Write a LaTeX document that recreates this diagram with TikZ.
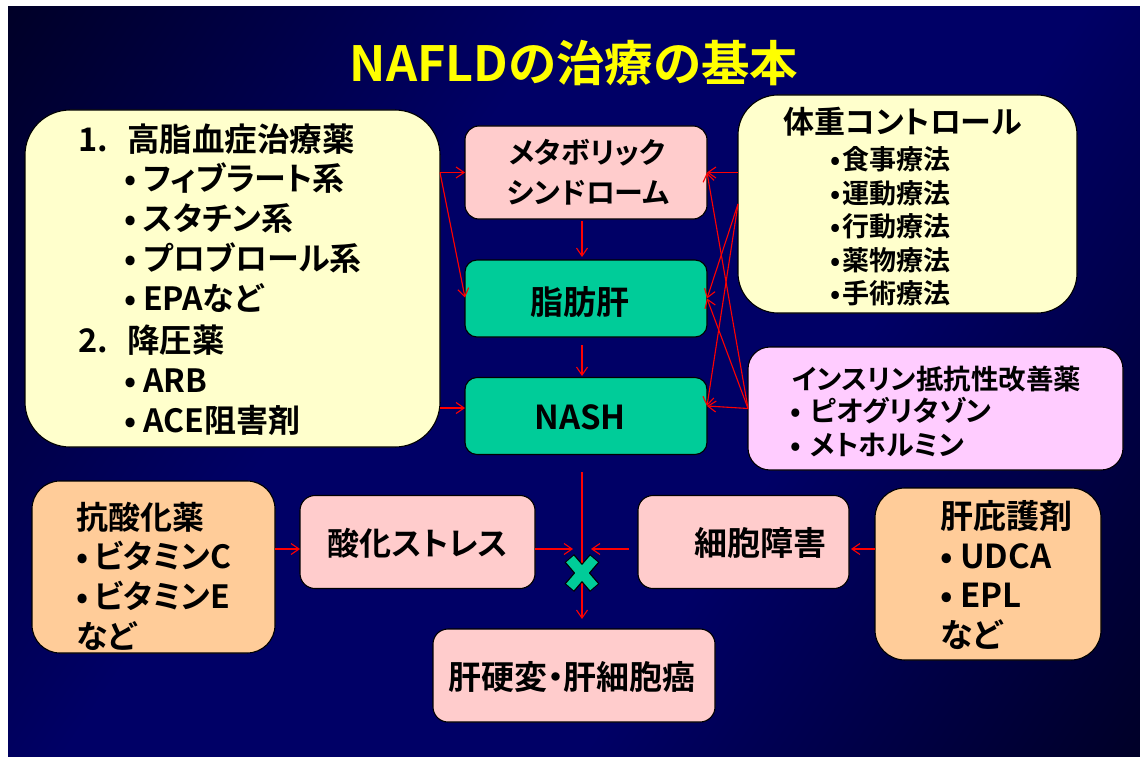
\documentclass[tikz,border=0pt]{standalone}
\usepackage{fontspec}
\setmainfont{Noto Sans CJK JP}[BoldFont={* Bold}, RawFeature=+palt]
\usetikzlibrary{arrows.meta}
\definecolor{navybg}{HTML}{000066}
\definecolor{ylbox}{HTML}{FFFFCC}
\definecolor{pkbox}{HTML}{FFCCCC}
\definecolor{tlbox}{HTML}{00CC99}
\definecolor{lvbox}{HTML}{FFCCFF}
\definecolor{orbox}{HTML}{FFCC99}
\definecolor{ttl}{HTML}{FFFF00}
\definecolor{arrred}{HTML}{FF0000}
\pgfdeclarehorizontalshading{bgshade}{100bp}{color(0bp)=(black); color(39bp)=(navybg); color(61bp)=(navybg); color(100bp)=(black)}
\newcommand\setfs[1]{\fontsize{#1}{#1}\selectfont}
\newcommand\bul[1]{\makebox[#1][l]{•}}
\begin{document}
\begin{tikzpicture}[x=1pt,y=-1pt,
  box/.style={draw=black, line width=1.1pt, inner sep=0pt, outer sep=0pt, rounded corners=#1},
  box/.default=14pt,
  txt/.style={anchor=base west, inner sep=0pt, text=black, font=\bfseries},
  ctxt/.style={anchor=base, inner sep=0pt, text=black, font=\bfseries},
  arr/.style={draw=arrred, line width=1.1pt, -{Straight Barb[length=8pt,width=11pt]}}]
\useasboundingbox (0,0) rectangle (1140,757);
\fill[white] (0,0) rectangle (1140,757);
\shade[shading=bgshade, shading angle=-34] (8,7) rectangle (1140,757);

% title
\node[ctxt, text=ttl] (title) at (574,82) {\setfs{48.5}NAFLDの治療の基本};

% boxes
\node[box=45pt, fill=ylbox, minimum width=415pt, minimum height=337pt] (left) at (232.5,278.5) {};
\node[box=14pt, fill=pkbox, minimum width=242pt, minimum height=93pt] (meta) at (586,172.5) {};
\node[box=12pt, fill=tlbox, minimum width=242pt, minimum height=77pt] (fat) at (586,298.5) {};
\node[box=12pt, fill=tlbox, minimum width=242pt, minimum height=77pt] (nash) at (586,416) {};
\node[box=40pt, fill=ylbox, minimum width=339pt, minimum height=218pt] (wt) at (907.5,204) {};
\node[box=22pt, fill=lvbox, minimum width=375pt, minimum height=123pt] (ins) at (935.5,408.5) {};
\node[box=28pt, fill=orbox, minimum width=243pt, minimum height=172pt] (anti) at (153.5,567) {};
\node[box=15pt, fill=pkbox, minimum width=235pt, minimum height=93pt] (ox) at (417.5,542) {};
\node[box=15pt, fill=pkbox, minimum width=211pt, minimum height=93pt] (cell) at (743.5,542) {};
\node[box=30pt, fill=orbox, minimum width=226pt, minimum height=172pt] (prot) at (988,574) {};
\node[box=15pt, fill=pkbox, minimum width=282pt, minimum height=93pt] (cirr) at (574,675.5) {};

% left box text
\node[txt] (l1) at (78,151) {\setfs{32.5}\makebox[49pt][l]{1.}高脂血症治療薬};
\node[txt] (l2) at (124,190.5) {\setfs{32}\bul{19pt}フィブラート系};
\node[txt] (l3) at (124,230.5) {\setfs{32}\bul{19pt}スタチン系};
\node[txt] (l4) at (124,270.5) {\setfs{32}\bul{19pt}プロブロール系};
\node[txt] (l5) at (124,310.5) {\setfs{32}\bul{19pt}EPAなど};
\node[txt] (l6) at (78,352) {\setfs{32.5}\makebox[49pt][l]{2.}降圧薬};
\node[txt] (l7) at (124,392) {\setfs{32}\bul{19pt}ARB};
\node[txt] (l8) at (124,432) {\setfs{32}\bul{19pt}ACE阻害剤};

% center texts
\node[ctxt] (metaT1) at (587,163) {\setfs{29}メタボリック};
\node[ctxt] (metaT2) at (588,203) {\setfs{29}シンドローム};
\node[ctxt] (fatT) at (580,314) {\setfs{33}脂肪肝};
\node[ctxt] (nashT) at (580,429) {\setfs{33}NASH};

% weight box text
\node[txt] (w0) at (783,133.5) {\setfs{31}体重コントロール};
\node[txt] (w1) at (830,169) {\setfs{27}\bul{12pt}食事療法};
\node[txt] (w2) at (830,203) {\setfs{27}\bul{12pt}運動療法};
\node[txt] (w3) at (830,236) {\setfs{27}\bul{12pt}行動療法};
\node[txt] (w4) at (830,270) {\setfs{27}\bul{12pt}薬物療法};
\node[txt] (w5) at (830,303) {\setfs{27}\bul{12pt}手術療法};

% insulin box text
\node[txt] (i0) at (792,389.5) {\setfs{27.5}インスリン抵抗性改善薬};
\node[txt] (i1) at (790,421.5) {\setfs{28}\bul{20pt}ピオグリタゾン};
\node[txt] (i2) at (790,455.5) {\setfs{28}\bul{20pt}メトホルミン};

% antioxidant box text
\node[txt] (a0) at (76,529) {\setfs{32}抗酸化薬};
\node[txt] (a1) at (76,568) {\setfs{32}\bul{18pt}ビタミンC};
\node[txt] (a2) at (76,608) {\setfs{32}\bul{18pt}ビタミンE};
\node[txt] (a3) at (76,648) {\setfs{32}など};

% protect box text
\node[txt] (p0) at (940,528) {\setfs{33}肝庇護剤};
\node[txt] (p1) at (940,568) {\setfs{33}\bul{20pt}UDCA};
\node[txt] (p2) at (940,607) {\setfs{33}\bul{20pt}EPL};
\node[txt] (p3) at (940,647) {\setfs{33}など};

% bottom texts
\node[ctxt] (oxT) at (418,555) {\setfs{32}酸化ストレス};
\node[ctxt] (cellT) at (760,555) {\setfs{33}細胞障害};
\node[ctxt] (cirrT) at (572,689) {\setfs{33}肝硬変・肝細胞癌};

% junction
\coordinate (jn) at (582,549);
\coordinate (xm) at (582,573);
\path ([yshift=8pt]nash.west) coordinate (nashW);
\path ([yshift=10pt]nash.east) coordinate (nashE);

% left connectors
\draw[arr] (left.east |- meta.west) -- (meta.west);
\draw[arr] (left.east |- meta.west) -- ([yshift=1pt]fat.west);
\draw[arr] (left.east |- nashW) -- (nashW);

% vertical chain
\draw[arr, shorten <=2pt, shorten >=3pt] ([xshift=-4pt]meta.south) -- ([xshift=-4pt]fat.north);
\draw[arr, shorten <=8pt, shorten >=1.5pt] ([xshift=-4pt]fat.south) -- ([xshift=-4pt]nash.north);
\draw[arr, shorten <=17.5pt, shorten >=10pt] ([xshift=-4pt]nash.south) -- ([xshift=8pt]cirr.north);

% right connectors
\draw[arr] (wt.west |- meta.east) -- (meta.east);
\draw[arr] (wt.west) -- (fat.east);
\draw[arr] (wt.west) -- (nashE);
\draw[arr] (ins.west) -- (meta.east);
\draw[arr] (ins.west) -- (fat.east);
\draw[arr] (ins.west) -- (nashE);

% bottom connectors
\draw[arr] (anti.east |- jn) -- (ox.west |- jn);
\draw[arr, shorten >=9pt] (ox.east |- jn) -- (jn);
\draw[arr, shorten >=9pt] ([xshift=-9pt]cell.west |- jn) -- (jn);
\draw[arr, shorten >=2pt] (prot.west |- jn) -- (cell.east |- jn);

% X mark
\draw[black, line width=12.5pt, shorten <=-1pt, shorten >=-1pt] ([shift={(-12,-14)}]xm) -- ([shift={(12,14)}]xm);
\draw[black, line width=12.5pt, shorten <=-1pt, shorten >=-1pt] ([shift={(12,-14)}]xm) -- ([shift={(-12,14)}]xm);
\draw[tlbox, line width=10pt] ([shift={(-12,-14)}]xm) -- ([shift={(12,14)}]xm);
\draw[tlbox, line width=10pt] ([shift={(12,-14)}]xm) -- ([shift={(-12,14)}]xm);
\end{tikzpicture}
\end{document}
